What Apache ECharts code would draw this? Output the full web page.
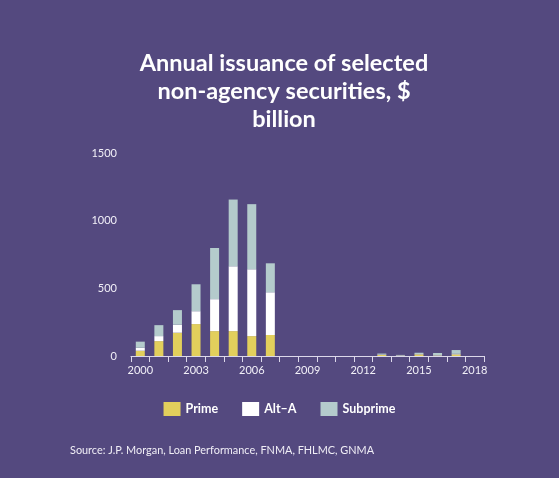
<!DOCTYPE html>
<html>
<head>
<meta charset="utf-8">
<script src="https://cdn.jsdelivr.net/npm/echarts@6/dist/echarts.min.js"></script>
<style>
html,body{margin:0;padding:0;background:#54497f;}
#c{width:559px;height:478px;}
</style>
</head>
<body>
<div id="c"></div>
<script>
const years = ['2000','2001','2002','2003','2004','2005','2006','2007','2008','2009','2010','2011','2012','2013','2014','2015','2016','2017','2018'];
const prime    = [39,110,172,236,184,184,147,155,0,0,0,0,0,8,2,12,3,12,0];
const altA     = [22,37,59,95,236,479,494,316,0,0,0,0,0,2,2,2,2,4,0];
const subprime = [45,81,108,199,378,493,481,214,0,0,0,0,0,8,4,10,17,28,0];
const yTicks = [0,500,1000,1500];

const chart = echarts.init(document.getElementById('c'));
chart.setOption({
  backgroundColor: '#54497f',
  animation: false,
  title: [{
    text: 'Annual issuance of selected\nnon-agency securities, $\nbillion',
    left: 279, top: 44,
    textAlign: 'center',
    textStyle: {color:'#ffffff', fontFamily:'Lato', fontWeight:'bold', fontSize:23.5, lineHeight:28}
  },{
    text: 'Source: J.P. Morgan, Loan Performance, FNMA, FHLMC, GNMA',
    left: 65, top: 440,
    textStyle: {color:'#f0eef6', fontFamily:'Lato', fontWeight:'normal', fontSize:10.9}
  }],
  legend: {
    top: 397, left: 'center',
    itemWidth: 17, itemHeight: 14, itemGap: 24,
    icon: 'rect',
    textStyle: {color:'#ffffff', fontFamily:'Lato', fontWeight:'bold', fontSize:12.5},
    data: ['Prime','Alt–A','Subprime']
  },
  grid: {left:131, right:75, top:153, bottom:122},
  xAxis: {
    type:'category', data: years,
    axisLine:{lineStyle:{color:'#dcd8ea', width:1.2}},
    axisTick:{show:true, interval:0, length:6, lineStyle:{color:'#dcd8ea'}},
    axisLabel:{interval:2, color:'#f2f0f8', fontFamily:'Lato', fontSize:11, margin:9}
  },
  yAxis: {
    type:'value', min:0, max:1500, interval:500,
    axisLine:{show:false}, axisTick:{show:false}, splitLine:{show:false},
    axisLabel:{color:'#f2f0f8', fontFamily:'Lato', fontSize:11, margin:14,
      formatter: v => yTicks.includes(v) ? String(v) : ''}
  },
  series: [
    {name:'Prime', type:'bar', stack:'a', data: prime, barWidth:9, itemStyle:{color:'#e2cf5c'}},
    {name:'Alt–A', type:'bar', stack:'a', data: altA, barWidth:9, itemStyle:{color:'#ffffff'}},
    {name:'Subprime', type:'bar', stack:'a', data: subprime, barWidth:9, itemStyle:{color:'#b4cbcc'}}
  ]
});
</script>
</body>
</html>
